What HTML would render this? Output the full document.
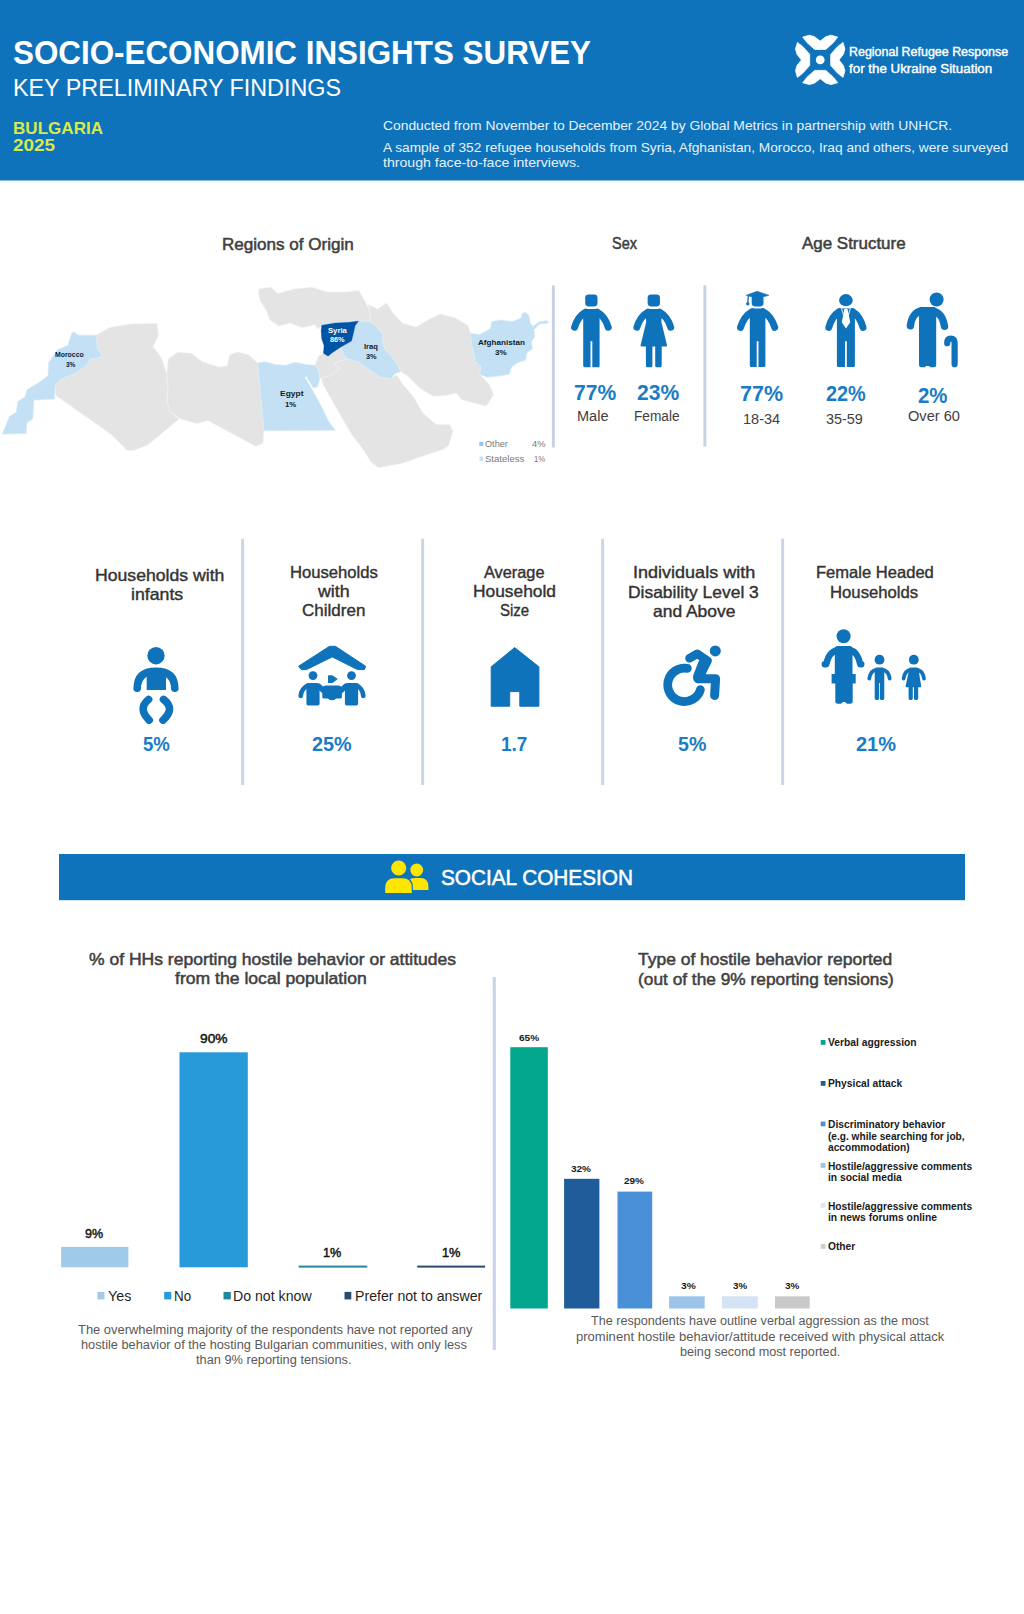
<!DOCTYPE html>
<html><head><meta charset="utf-8"><title>Socio-Economic Insights Survey</title>
<style>
html,body{margin:0;padding:0;background:#fff;}
body{width:1024px;height:1614px;position:relative;overflow:hidden;font-family:"Liberation Sans",sans-serif;}
.t{position:absolute;white-space:nowrap;line-height:1.149;transform-origin:0 0;display:block;}
.a{position:absolute;}
svg{position:absolute;left:0;top:0;overflow:visible;}
</style></head><body>
<svg width="1024" height="1614" viewBox="0 0 1024 1614">
<rect x="0" y="0" width="1024" height="180.5" fill="#0f73bb"/>
<g transform="translate(820.2,59.9)" fill="#fff">
<polygon transform="rotate(0)" points="-17.5,-22.8 -10.8,-24.7 -5.6,-23.2 0,-18.8 5.6,-23.2 10.8,-24.7 17.5,-22.8 13.2,-17.3 5.6,-10.5 -5.6,-10.5 -13.2,-17.3" stroke="#fff" stroke-width="0.8" stroke-linejoin="round"/>
<polygon transform="rotate(90)" points="-17.5,-22.8 -10.8,-24.7 -5.6,-23.2 0,-18.8 5.6,-23.2 10.8,-24.7 17.5,-22.8 13.2,-17.3 5.6,-10.5 -5.6,-10.5 -13.2,-17.3" stroke="#fff" stroke-width="0.8" stroke-linejoin="round"/>
<polygon transform="rotate(180)" points="-17.5,-22.8 -10.8,-24.7 -5.6,-23.2 0,-18.8 5.6,-23.2 10.8,-24.7 17.5,-22.8 13.2,-17.3 5.6,-10.5 -5.6,-10.5 -13.2,-17.3" stroke="#fff" stroke-width="0.8" stroke-linejoin="round"/>
<polygon transform="rotate(270)" points="-17.5,-22.8 -10.8,-24.7 -5.6,-23.2 0,-18.8 5.6,-23.2 10.8,-24.7 17.5,-22.8 13.2,-17.3 5.6,-10.5 -5.6,-10.5 -13.2,-17.3" stroke="#fff" stroke-width="0.8" stroke-linejoin="round"/>
<circle cx="0" cy="0" r="4.4"/></g>
<polygon points="99.8,332.9 109.4,327.4 131.3,323.9 157.2,323.3 158.6,335.6 153.1,346.6 161.3,357.5 166.8,373.9 168.2,390.3 166.8,401.3 170.9,412.2 179.1,419 147.7,445 134,450.5 127.2,450.5 120.3,443.6 110.7,434.1 56,395.8 54.7,384.8 60.9,379.1 75,373.3 85.5,366.3 90.2,359.2 101.4,356.9 101.4,353.4 97.3,348.7 96.1,335.2" fill="#e4e4e4" stroke="#f4f4f4" stroke-width="0.6" stroke-linejoin="round"/>
<polygon points="168.2,358.9 177.7,352 191.4,353.4 202.3,361.6 218.8,367.1 227,365.7 229.7,354.8 237.9,352 248.8,354.8 257.6,362.9 258.2,369.3 259.9,386.9 262.3,410.3 264,430.8 263,443.6 255.7,446.4 207.8,420.4 196.9,423.7 180.5,419 170.9,412.2 166.8,401.3 168.2,390.3 166.8,373.9" fill="#e4e4e4" stroke="#f4f4f4" stroke-width="0.6" stroke-linejoin="round"/>
<polygon points="258.8,288.8 271.3,287.2 277.5,293.4 294.7,288.8 311.9,287.2 327.5,291.9 346.3,291.9 358.8,290.3 365,301.3 369.7,310.6 370.3,321.7 358.6,321.1 349.2,322.3 335.2,322.9 321.7,325.2 318.1,329.4 315,324.7 302.5,327.8 290,323.1 279,326.3 269.7,320 266.6,310.6 260.3,301.3 258.8,295" fill="#e4e4e4" stroke="#f4f4f4" stroke-width="0.6" stroke-linejoin="round"/>
<polygon points="368.1,304.4 377.5,309.1 386.5,303 393.5,313.8 402.5,323.1 416,327 428.5,319.5 440.5,313.9 456,318.2 468.1,325.5 470.5,333.4 471.6,345.1 474,353.3 475.2,361.5 481,366.2 479.8,374.4 489.5,384.7 493.6,394.7 486.1,406.3 474,403 461.2,399.6 456.2,393 446.3,395.5 433,396.3 419.7,388 408.1,376.4 400.8,371.5 397.3,365.6 392.6,357.4 385.5,350.4 382,342.2 383.2,335.2 376.2,327 370.3,321.7 369.7,310.6" fill="#e4e4e4" stroke="#f4f4f4" stroke-width="0.6" stroke-linejoin="round"/>
<polygon points="315,365.2 318.5,356 323.4,353.3 328.1,356.3 331.6,353.3 341,346.9 343.4,353.9 346.9,358.6 333.8,363.8 340,368.4 329.1,376.3 321.3,377.8 319.7,379.8 318.5,370.5" fill="#e4e4e4" stroke="#f4f4f4" stroke-width="0.6" stroke-linejoin="round"/>
<polygon points="321.3,377.8 329.1,376.3 340,368.4 333.8,363.8 346.9,358.6 358.6,362.1 370.3,370.3 380.9,377.3 391.4,378.5 396.4,374.7 403.1,384.7 413.1,396.3 423,412.9 436.3,424.6 449.6,424.6 452.9,431.2 448.8,445.3 443,449.5 423,456.1 401.4,463.6 378.2,467.7 371.5,462.8 363.2,449.5 351.6,434.5 340,414.6 330.6,398.1 322.8,384.1" fill="#e4e4e4" stroke="#f4f4f4" stroke-width="0.6" stroke-linejoin="round"/>
<polygon points="73.8,331.7 78.5,335.2 96.1,335.2 97.3,348.7 101.4,353.4 101.4,356.9 90.2,359.2 85.5,366.3 75,373.3 60.9,379.1 55.1,385 54.5,399.1 34,400.2 32.8,419 27,422.5 26.4,433.6 2.3,434.2 9.4,416.6 16.4,412 17.6,401.4 25.2,396.7 27,389.7 38.7,382.7 48,375.6 48.6,362.7 57.4,349.8 68,345.2 71.5,333.4" fill="#c3e0f4" stroke="#d8ecf8" stroke-width="0.6" stroke-linejoin="round"/>
<polygon points="257.6,362.9 264.6,361.7 275.2,364.6 285.7,365.2 295.1,362.3 305.6,364.6 315,365.2 318.5,370.5 319.7,379.8 317.3,386.9 313.2,388 309.1,381 306.2,376.3 305,377.5 312.7,390.4 320.9,405.6 329.1,422 335.5,430.2 264,430.8 262.3,410.3 259.9,386.9 258.2,369.3" fill="#c3e0f4" stroke="#d8ecf8" stroke-width="0.6" stroke-linejoin="round"/>
<polygon points="358.6,321.1 370.3,321.7 376.2,327 383.2,335.2 382,342.2 385.5,350.4 392.6,357.4 397.3,365.6 400.8,371.5 394.9,373.8 391.4,378.5 380.9,377.3 370.3,370.3 358.6,362.1 346.9,358.6 343.4,353.9 341,346.9 351.6,341 353.3,334 355.1,325.8" fill="#c3e0f4" stroke="#d8ecf8" stroke-width="0.6" stroke-linejoin="round"/>
<polygon points="470.5,333.4 479.8,334.5 490.4,328.7 491.6,321.6 500.9,319.9 512.7,321.6 520.9,318.1 522,313.4 525.5,312.3 529.1,315.8 530.2,322.8 532.6,326.3 539.6,321.6 547.8,320.5 547.8,323.4 539.6,324 533.8,329.8 534.9,336.9 531.4,341.6 532.6,348.6 526.7,353.3 525.5,360.3 517.3,362.7 511.5,367.3 509.1,374.4 498.6,376.1 486.9,377.3 479.8,374.4 481,366.2 475.2,361.5 474,353.3 471.6,345.1" fill="#c3e0f4" stroke="#d8ecf8" stroke-width="0.6" stroke-linejoin="round"/>
<polygon points="321.7,325.2 335.2,322.9 349.2,322.3 358.6,321.1 355.1,325.8 353.3,334 351.6,341 341,346.9 331.6,353.3 328.1,356.3 323.4,353.3 324,345.7 321.7,338.7 321.1,330.5" fill="#0054a6" stroke="#0054a6" stroke-width="0.3" stroke-linejoin="round"/>
<rect x="479.3" y="441.8" width="4" height="4.2" fill="#8fc9ee"/>
<rect x="479.6" y="456.6" width="3.6" height="4.2" fill="#c4e2f5"/>
<rect x="551.9" y="285.5" width="2.9" height="162" fill="#c8d2e4"/>
<rect x="703.4" y="285.2" width="2.9" height="161.3" fill="#c8d2e4"/>
<rect x="241.2" y="538.7" width="2.9" height="246.3" fill="#cdd3ea"/>
<rect x="421.2" y="538.7" width="2.9" height="246.3" fill="#cdd3ea"/>
<rect x="601.2" y="538.7" width="2.9" height="246.3" fill="#cdd3ea"/>
<rect x="781.2" y="538.7" width="2.9" height="246.3" fill="#cdd3ea"/>
<rect x="492.8" y="977" width="3" height="373" fill="#c8d3ea"/>
<rect x="585.2" y="294.4" width="12.3" height="12.1" rx="3.4" fill="#0f73bb"/>
<path d="M583.2 311.4 q0 -2.5 2.5 -2.5 h11.4 q2.5 0 2.5 2.5 V365.8 q0 1.5 -1.5 1.5 H592.3 V341.3 H590.5 V367.3 H584.7 q-1.5 0 -1.5 -1.5 z" fill="#0f73bb"/>
<path d="M585.4 312.2 Q577.8 316.4 574.6 327.2" fill="none" stroke="#0f73bb" stroke-width="7" stroke-linecap="round"/>
<path d="M597.4 312.2 Q605.0 316.4 608.2 327.2" fill="none" stroke="#0f73bb" stroke-width="7" stroke-linecap="round"/>
<rect x="647.65" y="294.4" width="12.3" height="12.1" rx="3.4" fill="#0f73bb"/>
<path d="M645.5999999999999 311.4 q0 -2.5 2.5 -2.5 h11.4 q2.5 0 2.5 2.5 L661.4 322 L667.0 345.2 q0.3 1.4 -1 1.4 H661.6999999999999 V365.8 q0 1.5 -1.5 1.5 h-3.5 q-1.5 0 -1.5 -1.5 V346.6 h-2.8 V365.8 q0 1.5 -1.5 1.5 h-3.5 q-1.5 0 -1.5 -1.5 V346.6 H641.5999999999999 q-1.3 0 -1 -1.4 L646.1999999999999 322 z" fill="#0f73bb"/>
<path d="M647.8 312.2 Q640.2 316.4 636.9 327.2" fill="none" stroke="#0f73bb" stroke-width="7" stroke-linecap="round"/>
<path d="M659.8 312.2 Q667.4 316.4 670.7 327.2" fill="none" stroke="#0f73bb" stroke-width="7" stroke-linecap="round"/>
<rect x="751.7" y="295.4" width="11.8" height="11.1" rx="3.4" fill="#0f73bb"/>
<path d="M749.8 310.9 q0 -2.5 2.5 -2.5 h10.6 q2.5 0 2.5 2.5 V365.5 q0 1.5 -1.5 1.5 H758.5 V341.3 H756.7 V367 H751.3 q-1.5 0 -1.5 -1.5 z" fill="#0f73bb"/>
<path d="M752.0 311.7 Q744.0 316.1 740.5 327.4" fill="none" stroke="#0f73bb" stroke-width="7" stroke-linecap="round"/>
<path d="M763.2 311.7 Q771.2 316.1 774.7 327.4" fill="none" stroke="#0f73bb" stroke-width="7" stroke-linecap="round"/>
<polygon points="746.1,295.3 757.2,291.3 768.8,295.3 757.2,298.6" fill="#0f73bb" stroke="#0f73bb" stroke-width="0.6" stroke-linejoin="round"/>
<path d="M748.3 296 L747.9 302.5" stroke="#0f73bb" stroke-width="1.3"/><circle cx="747.8" cy="303.7" r="1.7" fill="#0f73bb"/>
<ellipse cx="845.9" cy="300.2" rx="6.8" ry="6.1" fill="#0f73bb"/>
<path d="M836.9 310.9 q0 -2.5 2.5 -2.5 h13.0 q2.5 0 2.5 2.5 V365.5 q0 1.5 -1.5 1.5 H846.8 V341.3 H845.0 V367 H838.4 q-1.5 0 -1.5 -1.5 z" fill="#0f73bb"/>
<path d="M839.1 311.7 Q831.9 316.1 828.8 327.4" fill="none" stroke="#0f73bb" stroke-width="7" stroke-linecap="round"/>
<path d="M852.7 311.7 Q859.9 316.1 863.0 327.4" fill="none" stroke="#0f73bb" stroke-width="7" stroke-linecap="round"/>
<polygon points="844.3,309 847.5,309 848.4,313 850.2,322.3 846,328.6 841.8,322.3 843.6,313" fill="#fff"/>
<path d="M841.6 308.6 L843.6 315.5 M850.3 308.6 L848.3 315.5" stroke="#fff" stroke-width="0.9"/>
<circle cx="936.6" cy="299.5" r="7" fill="#0f73bb"/>
<path d="M919 309.7 q0 -2.7 2.7 -2.7 h11.8 q2.7 0 2.7 2.7 V365 q0 2.2 -2.2 2.2 h-3.7 l-1.3 -1.3 h-2.8 l-1.3 1.3 h-3.7 q-2.2 0 -2.2 -2.2 z" fill="#0f73bb"/>
<path d="M921.5 310.5 Q912 313 910.4 325.8" fill="none" stroke="#0f73bb" stroke-width="7.4" stroke-linecap="round"/>
<path d="M933.5 311 Q942.5 313.5 944.5 326.3" fill="none" stroke="#0f73bb" stroke-width="7.4" stroke-linecap="round"/>
<path d="M954.6 364.2 V343.5 Q954.6 338.7 950.8 338.7 Q947.2 338.7 947.2 343.2" fill="none" stroke="#0f73bb" stroke-width="6.2" stroke-linecap="round"/>
<circle cx="156" cy="655.7" r="8.7" fill="#0f73bb"/>
<path d="M137.2 688.2 Q137.4 671.2 156 671.2 Q174.6 671.2 174.8 688.2" fill="none" stroke="#0f73bb" stroke-width="7.6" stroke-linecap="round"/>
<path d="M146.7 690.1 V676 Q147 668 156 668 Q165.6 668 166 676 V690.1 z" fill="#0f73bb"/>
<path d="M148.6 699.4 Q137.4 708.6 149.2 720.2" fill="none" stroke="#0f73bb" stroke-width="7.6" stroke-linecap="round"/>
<path d="M163.5 699.4 Q175.8 708.6 163 720.2" fill="none" stroke="#0f73bb" stroke-width="7.6" stroke-linecap="round"/>
<polygon points="298.6,666.2 329.5,646.3 335.4,646.3 365.6,666.2 364.5,669.6 357.5,669.6 332.3,656.9 306.5,669.6 301.3,669.6" fill="#0f73bb" stroke="#0f73bb" stroke-width="1" stroke-linejoin="round"/>
<circle cx="313" cy="675.6" r="4.4" fill="#0f73bb"/>
<path d="M306.4 703.8 V686.3 q0 -3.4 3.4 -3.4 h6.4 q3.4 0 3.4 3.4 V703.8 q0 1.8 -1.8 1.8 h-9.6 q-1.8 0 -1.8 -1.8 z" fill="#0f73bb"/>
<circle cx="351.5" cy="675.6" r="4.4" fill="#0f73bb"/>
<path d="M344.9 703.8 V686.3 q0 -3.4 3.4 -3.4 h6.4 q3.4 0 3.4 3.4 V703.8 q0 1.8 -1.8 1.8 h-9.6 q-1.8 0 -1.8 -1.8 z" fill="#0f73bb"/>
<path d="M308 685.3 Q301.2 688.5 300.7 696" fill="none" stroke="#0f73bb" stroke-width="4.6" stroke-linecap="round"/>
<path d="M356.5 685.3 Q362.8 688.5 363.3 696" fill="none" stroke="#0f73bb" stroke-width="4.6" stroke-linecap="round"/>
<path d="M318.5 686 L325 692 M346 686 L339.5 692" fill="none" stroke="#0f73bb" stroke-width="5.4" stroke-linecap="round"/>
<path d="M328.6 675.9 h3.6 l4.6 3.2 l-4.6 3.4 h-3.6 z" fill="#0f73bb" stroke="#0f73bb" stroke-width="1.2" stroke-linejoin="round"/>
<path d="M322.3 697 V689.2 q0 -3.6 3.6 -3.6 h12.4 q3.6 0 3.6 3.6 V697 q0 1.6 -1.6 1.6 h-3.6 q-2 1.6 -4.6 1.6 q-2.600 0 -4.6 -1.6 h-3.6 q-1.6 0 -1.6 -1.6 z" fill="#0f73bb"/>
<path d="M514.7 647.6 L538.9 666.8 V706.2 H519.8 V691.6 H509.7 V706.2 H491.2 V666.8 z" fill="#0f73bb" stroke="#0f73bb" stroke-width="1" stroke-linejoin="round"/>
<circle cx="715.3" cy="650.9" r="5.5" fill="#0f73bb"/>
<path d="M687.3 668.4 A16.7 16.7 0 1 0 700.4 689.7" fill="none" stroke="#0f73bb" stroke-width="8.8" stroke-linecap="round"/>
<path d="M689.5 658.3 L697.3 653.8 L707.5 660.8 L699.8 676" fill="none" stroke="#0f73bb" stroke-width="8.6" stroke-linecap="round" stroke-linejoin="round"/>
<path d="M698 678.8 L715.6 678.8 L714.6 695.6" fill="none" stroke="#0f73bb" stroke-width="9" stroke-linecap="round" stroke-linejoin="round"/>
<path d="M703.5 664 L698.5 677" fill="none" stroke="#0f73bb" stroke-width="11" stroke-linecap="round"/>
<circle cx="843.6" cy="636.2" r="7" fill="#0f73bb"/>
<path d="M834.8 649 q0 -3 3 -3 h11.7 q3 0 3 3 V674 h3.2 V683.6 h-3 V701.5 q0 2.3 -2.3 2.3 h-3.4 l-2 -1.8 h-2 l-2 1.8 h-3.4 q-2.3 0 -2.3 -2.3 V683.6 h-3.7 V674 h3.2 z" fill="#0f73bb"/>
<path d="M838 649.6 Q828.5 652 826.3 664.3 h-1.5" fill="none" stroke="#0f73bb" stroke-width="6.4" stroke-linecap="round" stroke-linejoin="round"/>
<path d="M849.5 649.6 Q858 652 860.3 664.3 h1" fill="none" stroke="#0f73bb" stroke-width="6.4" stroke-linecap="round" stroke-linejoin="round"/>
<circle cx="879.5" cy="659.7" r="4.9" fill="#0f73bb"/>
<path d="M874.7 670 q0 -2.4 2.4 -2.4 h4.8 q2.4 0 2.4 2.4 V698.6 q0 1.4 -1.4 1.4 h-1.6 q-1.4 0 -1.4 -1.4 V683 h-0.8 V698.6 q0 1.4 -1.4 1.4 h-1.6 q-1.4 0 -1.4 -1.4 z" fill="#0f73bb"/>
<path d="M876.5 669.6 Q870.3 670.6 869.3 678.6" fill="none" stroke="#0f73bb" stroke-width="3.8" stroke-linecap="round"/>
<path d="M882.5 669.6 Q888.7 670.6 889.7 678.6" fill="none" stroke="#0f73bb" stroke-width="3.8" stroke-linecap="round"/>
<circle cx="913.8" cy="659.7" r="4.9" fill="#0f73bb"/>
<path d="M909.0 670 q0 -2.4 2.4 -2.4 h4.8 q2.4 0 2.4 2.4 l2.6 16.2 q0.2 1.1 -1 1.1 h-2 V698.6 q0 1.4 -1.4 1.4 h-1.4 q-1.4 0 -1.4 -1.4 V687.3 h-1.2 V698.6 q0 1.4 -1.4 1.4 h-1.4 q-1.4 0 -1.4 -1.4 V687.3 h-2 q-1.2 0 -1 -1.1 z" fill="#0f73bb"/>
<path d="M910.8 669.6 Q904.6 670.6 903.6 678.6" fill="none" stroke="#0f73bb" stroke-width="3.8" stroke-linecap="round"/>
<path d="M916.8 669.6 Q923.0 670.6 924.0 678.6" fill="none" stroke="#0f73bb" stroke-width="3.8" stroke-linecap="round"/>
<rect x="59" y="854" width="906" height="46.2" fill="#0f73bb"/>
<g fill="#ffe600"><circle cx="416.7" cy="870" r="6.4"/><path d="M406.9 889.9 V886.5 Q406.9 877.9 415 877.9 H420.5 Q428.4 877.9 428.4 886.5 V889.9 z"/>
<circle cx="398.7" cy="868" r="8.2" stroke="#0f73bb" stroke-width="1.2"/><path d="M384.6 893.6 V888 Q384.6 877.6 394.5 877.6 H402.5 Q412.4 877.6 412.4 888 V893.6 z" stroke="#0f73bb" stroke-width="1.2"/></g>
<rect x="61.1" y="1246.9" width="67.3" height="20.4" fill="#9fcbe8"/>
<rect x="179.5" y="1052.3" width="68.3" height="215" fill="#279bd9"/>
<rect x="298.6" y="1265.6" width="68.7" height="2" fill="#23869f"/>
<rect x="417.2" y="1265.6" width="67.9" height="2" fill="#2c4a6e"/>
<rect x="97.4" y="1291.9" width="7.1" height="7.5" fill="#9fcbe8"/>
<rect x="164.2" y="1291.9" width="7.1" height="7.5" fill="#279bd9"/>
<rect x="223.5" y="1291.9" width="7.3" height="7.5" fill="#23869f"/>
<rect x="344.5" y="1291.9" width="6.8" height="7.5" fill="#2c4a6e"/>
<rect x="510.3" y="1047.2" width="37.5" height="261.3" fill="#02a68c"/>
<rect x="564.1" y="1178.8" width="35.3" height="129.7" fill="#1f5c99"/>
<rect x="617.5" y="1191.6" width="34.7" height="116.9" fill="#4a90d9"/>
<rect x="669.1" y="1296.3" width="35.6" height="12.2" fill="#9dc3e8"/>
<rect x="721.9" y="1296.3" width="35.9" height="12.2" fill="#d5e4f5"/>
<rect x="775" y="1296.3" width="34.7" height="12.2" fill="#c9c9c9"/>
<rect x="820.7" y="1040" width="4.8" height="4.8" fill="#02a68c"/>
<rect x="820.7" y="1081" width="4.8" height="4.8" fill="#1f5c99"/>
<rect x="820.7" y="1121.5" width="4.8" height="4.8" fill="#4a90d9"/>
<rect x="820.7" y="1163" width="4.8" height="4.8" fill="#9dc3e8"/>
<rect x="820.7" y="1203" width="4.8" height="4.8" fill="#dbe7f5"/>
<rect x="820.7" y="1244" width="4.8" height="4.8" fill="#cfcfcf"/>
</svg>
<span class="t" id="t0" style="left:13.0px;top:34.1px;font-size:33px;font-weight:700;color:#ffffff;transform:scaleX(0.9504);">SOCIO-ECONOMIC INSIGHTS SURVEY</span>
<span class="t" id="t1" style="left:13.0px;top:75.4px;font-size:23px;font-weight:400;color:#ffffff;transform:scaleX(1.0143);">KEY PRELIMINARY FINDINGS</span>
<span class="t" id="t2" style="left:13.0px;top:118.6px;font-size:17px;font-weight:700;color:#d8e84e;transform:scaleX(1.0031);">BULGARIA</span>
<span class="t" id="t3" style="left:13.0px;top:136.1px;font-size:17px;font-weight:700;color:#d8e84e;transform:scaleX(1.1103);">2025</span>
<span class="t" id="t4" style="left:383.0px;top:117.9px;font-size:13.4px;font-weight:400;color:#e8f1fa;transform:scaleX(1.0346);">Conducted from November to December 2024 by Global Metrics in partnership with UNHCR.</span>
<span class="t" id="t5" style="left:383.0px;top:140.3px;font-size:13.4px;font-weight:400;color:#e8f1fa;transform:scaleX(1.0240);">A sample of 352 refugee households from Syria, Afghanistan, Morocco, Iraq and others, were surveyed</span>
<span class="t" id="t6" style="left:383.0px;top:155.1px;font-size:13.4px;font-weight:400;color:#e8f1fa;transform:scaleX(1.0544);">through face-to-face interviews.</span>
<span class="t" id="t7" style="left:848.8px;top:45.2px;font-size:13px;font-weight:400;color:#ffffff;transform:scaleX(0.9577);-webkit-text-stroke:0.4px #fff;">Regional Refugee Response</span>
<span class="t" id="t8" style="left:848.8px;top:61.5px;font-size:13px;font-weight:400;color:#ffffff;transform:scaleX(1.0268);-webkit-text-stroke:0.4px #fff;">for the Ukraine Situation</span>
<span class="t" id="t9" style="left:222.0px;top:235.5px;font-size:16px;font-weight:400;color:#404040;transform:scaleX(1.0661);-webkit-text-stroke:0.5px #404040;">Regions of Origin</span>
<span class="t" id="t10" style="left:611.6px;top:234.7px;font-size:16px;font-weight:400;color:#404040;transform:scaleX(0.9029);-webkit-text-stroke:0.5px #404040;">Sex</span>
<span class="t" id="t11" style="left:801.8px;top:234.7px;font-size:16px;font-weight:400;color:#404040;transform:scaleX(1.0590);-webkit-text-stroke:0.5px #404040;">Age Structure</span>
<span class="t" id="t12" style="left:574.2px;top:379.9px;font-size:22px;font-weight:700;color:#1b7cc6;transform:scaleX(0.9581);">77%</span>
<span class="t" id="t13" style="left:636.7px;top:379.9px;font-size:22px;font-weight:700;color:#1b7cc6;transform:scaleX(0.9581);">23%</span>
<span class="t" id="t14" style="left:739.5px;top:381.3px;font-size:22px;font-weight:700;color:#1b7cc6;transform:scaleX(0.9762);">77%</span>
<span class="t" id="t15" style="left:826.2px;top:381.3px;font-size:22px;font-weight:700;color:#1b7cc6;transform:scaleX(0.9013);">22%</span>
<span class="t" id="t16" style="left:918.4px;top:382.6px;font-size:22px;font-weight:700;color:#1b7cc6;transform:scaleX(0.9278);">2%</span>
<span class="t" id="t17" style="left:576.6px;top:407.6px;font-size:14px;font-weight:400;color:#404040;transform:scaleX(1.0376);">Male</span>
<span class="t" id="t18" style="left:634.1px;top:407.6px;font-size:14px;font-weight:400;color:#404040;transform:scaleX(0.9767);">Female</span>
<span class="t" id="t19" style="left:743.4px;top:410.9px;font-size:14px;font-weight:400;color:#404040;transform:scaleX(1.0360);">18-34</span>
<span class="t" id="t20" style="left:826.2px;top:410.9px;font-size:14px;font-weight:400;color:#404040;transform:scaleX(1.0304);">35-59</span>
<span class="t" id="t21" style="left:908.3px;top:407.6px;font-size:14px;font-weight:400;color:#404040;transform:scaleX(1.0419);">Over 60</span>
<span class="t" id="t22" style="left:94.6px;top:566.0px;font-size:16.5px;font-weight:400;color:#333333;transform:scaleX(1.0687);-webkit-text-stroke:0.4px #333333;">Households with</span>
<span class="t" id="t23" style="left:131.3px;top:585.0px;font-size:16.5px;font-weight:400;color:#333333;transform:scaleX(1.0735);-webkit-text-stroke:0.4px #333333;">infants</span>
<span class="t" id="t24" style="left:290.0px;top:563.0px;font-size:16.5px;font-weight:400;color:#333333;transform:scaleX(1.0087);-webkit-text-stroke:0.4px #333333;">Households</span>
<span class="t" id="t25" style="left:317.8px;top:582.1px;font-size:16.5px;font-weight:400;color:#333333;transform:scaleX(1.0803);-webkit-text-stroke:0.4px #333333;">with</span>
<span class="t" id="t26" style="left:302.2px;top:601.1px;font-size:16.5px;font-weight:400;color:#333333;transform:scaleX(1.0317);-webkit-text-stroke:0.4px #333333;">Children</span>
<span class="t" id="t27" style="left:484.3px;top:563.1px;font-size:16.5px;font-weight:400;color:#333333;transform:scaleX(0.9890);-webkit-text-stroke:0.4px #333333;">Average</span>
<span class="t" id="t28" style="left:473.0px;top:582.1px;font-size:16.5px;font-weight:400;color:#333333;transform:scaleX(1.0521);-webkit-text-stroke:0.4px #333333;">Household</span>
<span class="t" id="t29" style="left:500.0px;top:601.1px;font-size:16.5px;font-weight:400;color:#333333;transform:scaleX(0.9094);-webkit-text-stroke:0.4px #333333;">Size</span>
<span class="t" id="t30" style="left:633.3px;top:563.1px;font-size:16.5px;font-weight:400;color:#333333;transform:scaleX(1.0921);-webkit-text-stroke:0.4px #333333;">Individuals with</span>
<span class="t" id="t31" style="left:628.4px;top:582.8px;font-size:16.5px;font-weight:400;color:#333333;transform:scaleX(1.0564);-webkit-text-stroke:0.4px #333333;">Disability Level 3</span>
<span class="t" id="t32" style="left:652.6px;top:602.4px;font-size:16.5px;font-weight:400;color:#333333;transform:scaleX(1.0564);-webkit-text-stroke:0.4px #333333;">and Above</span>
<span class="t" id="t33" style="left:815.8px;top:563.1px;font-size:16.5px;font-weight:400;color:#333333;transform:scaleX(1.0034);-webkit-text-stroke:0.4px #333333;">Female Headed</span>
<span class="t" id="t34" style="left:830.2px;top:582.8px;font-size:16.5px;font-weight:400;color:#333333;transform:scaleX(1.0122);-webkit-text-stroke:0.4px #333333;">Households</span>
<span class="t" id="t35" style="left:143.4px;top:731.8px;font-size:21px;font-weight:700;color:#1b7cc6;transform:scaleX(0.8861);">5%</span>
<span class="t" id="t36" style="left:312.4px;top:731.8px;font-size:21px;font-weight:700;color:#1b7cc6;transform:scaleX(0.9422);">25%</span>
<span class="t" id="t37" style="left:500.7px;top:731.8px;font-size:21px;font-weight:700;color:#1b7cc6;transform:scaleX(0.9006);">1.7</span>
<span class="t" id="t38" style="left:678.2px;top:731.8px;font-size:21px;font-weight:700;color:#1b7cc6;transform:scaleX(0.9355);">5%</span>
<span class="t" id="t39" style="left:856.3px;top:731.8px;font-size:21px;font-weight:700;color:#1b7cc6;transform:scaleX(0.9517);">21%</span>
<span class="t" id="t40" style="left:440.6px;top:864.8px;font-size:22px;font-weight:400;color:#ffffff;transform:scaleX(0.9437);-webkit-text-stroke:0.55px #fff;">SOCIAL COHESION</span>
<span class="t" id="t41" style="left:89.2px;top:949.9px;font-size:16.5px;font-weight:400;color:#404040;transform:scaleX(1.0617);-webkit-text-stroke:0.5px #404040;">% of HHs reporting hostile behavior or attitudes</span>
<span class="t" id="t42" style="left:175.3px;top:969.1px;font-size:16.5px;font-weight:400;color:#404040;transform:scaleX(1.0663);-webkit-text-stroke:0.5px #404040;">from the local population</span>
<span class="t" id="t43" style="left:638.0px;top:950.2px;font-size:16.5px;font-weight:400;color:#404040;transform:scaleX(1.0581);-webkit-text-stroke:0.5px #404040;">Type of hostile behavior reported</span>
<span class="t" id="t44" style="left:638.0px;top:969.6px;font-size:16.5px;font-weight:400;color:#404040;transform:scaleX(1.0488);-webkit-text-stroke:0.5px #404040;">(out of the 9% reporting tensions)</span>
<span class="t" id="t45" style="left:200.0px;top:1031.7px;font-size:12.5px;font-weight:400;color:#1a1a1a;transform:scaleX(1.0986);-webkit-text-stroke:0.45px #111;">90%</span>
<span class="t" id="t46" style="left:85.2px;top:1227.1px;font-size:12.5px;font-weight:400;color:#1a1a1a;transform:scaleX(1.0012);-webkit-text-stroke:0.45px #111;">9%</span>
<span class="t" id="t47" style="left:322.7px;top:1246.2px;font-size:12.5px;font-weight:400;color:#1a1a1a;transform:scaleX(1.0123);-webkit-text-stroke:0.45px #111;">1%</span>
<span class="t" id="t48" style="left:441.8px;top:1246.2px;font-size:12.5px;font-weight:400;color:#1a1a1a;transform:scaleX(1.0233);-webkit-text-stroke:0.45px #111;">1%</span>
<span class="t" id="t49" style="left:108.0px;top:1288.1px;font-size:14px;font-weight:400;color:#1f1f1f;transform:scaleX(1.0244);">Yes</span>
<span class="t" id="t50" style="left:174.1px;top:1288.1px;font-size:14px;font-weight:400;color:#1f1f1f;transform:scaleX(0.9550);">No</span>
<span class="t" id="t51" style="left:233.4px;top:1288.1px;font-size:14px;font-weight:400;color:#1f1f1f;transform:scaleX(1.0099);">Do not know</span>
<span class="t" id="t52" style="left:354.8px;top:1288.1px;font-size:14px;font-weight:400;color:#1f1f1f;transform:scaleX(1.0090);">Prefer not to answer</span>
<span class="t" id="t53" style="left:77.6px;top:1323.1px;font-size:12.5px;font-weight:400;color:#595959;transform:scaleX(1.0339);">The overwhelming majority of the respondents have not reported any</span>
<span class="t" id="t54" style="left:81.1px;top:1337.6px;font-size:12.5px;font-weight:400;color:#595959;transform:scaleX(1.0228);">hostile behavior of the hosting Bulgarian communities, with only less</span>
<span class="t" id="t55" style="left:195.5px;top:1352.6px;font-size:12.5px;font-weight:400;color:#595959;transform:scaleX(1.0218);">than 9% reporting tensions.</span>
<span class="t" id="t56" style="left:518.8px;top:1032.7px;font-size:9.5px;font-weight:700;color:#1a1a1a;transform:scaleX(1.0623);">65%</span>
<span class="t" id="t57" style="left:571.3px;top:1163.6px;font-size:9.5px;font-weight:700;color:#1a1a1a;transform:scaleX(1.0518);">32%</span>
<span class="t" id="t58" style="left:624.4px;top:1176.4px;font-size:9.5px;font-weight:700;color:#1a1a1a;transform:scaleX(1.0518);">29%</span>
<span class="t" id="t59" style="left:680.6px;top:1280.8px;font-size:9.5px;font-weight:700;color:#1a1a1a;transform:scaleX(1.0703);">3%</span>
<span class="t" id="t60" style="left:732.8px;top:1280.8px;font-size:9.5px;font-weight:700;color:#1a1a1a;transform:scaleX(1.0266);">3%</span>
<span class="t" id="t61" style="left:785.0px;top:1280.8px;font-size:9.5px;font-weight:700;color:#1a1a1a;transform:scaleX(1.0485);">3%</span>
<span class="t" id="t62" style="left:828.1px;top:1037.4px;font-size:10px;font-weight:700;color:#1a1a1a;transform:scaleX(1.0284);">Verbal aggression</span>
<span class="t" id="t63" style="left:828.1px;top:1078.4px;font-size:10px;font-weight:700;color:#1a1a1a;transform:scaleX(1.0268);">Physical attack</span>
<span class="t" id="t64" style="left:828.1px;top:1118.8px;font-size:10px;font-weight:700;color:#1a1a1a;transform:scaleX(1.0246);">Discriminatory behavior</span>
<span class="t" id="t65" style="left:828.1px;top:1131.0px;font-size:10px;font-weight:700;color:#1a1a1a;transform:scaleX(1.0116);">(e.g. while searching for job,</span>
<span class="t" id="t66" style="left:828.1px;top:1142.2px;font-size:10px;font-weight:700;color:#1a1a1a;transform:scaleX(1.0211);">accommodation)</span>
<span class="t" id="t67" style="left:827.6px;top:1160.5px;font-size:10px;font-weight:700;color:#1a1a1a;transform:scaleX(1.0207);">Hostile/aggressive comments</span>
<span class="t" id="t68" style="left:827.6px;top:1171.5px;font-size:10px;font-weight:700;color:#1a1a1a;transform:scaleX(1.0292);">in social media</span>
<span class="t" id="t69" style="left:827.6px;top:1200.5px;font-size:10px;font-weight:700;color:#1a1a1a;transform:scaleX(1.0207);">Hostile/aggressive comments</span>
<span class="t" id="t70" style="left:827.6px;top:1212.0px;font-size:10px;font-weight:700;color:#1a1a1a;transform:scaleX(1.0324);">in news forums online</span>
<span class="t" id="t71" style="left:828.1px;top:1241.0px;font-size:10px;font-weight:700;color:#1a1a1a;transform:scaleX(1.0236);">Other</span>
<span class="t" id="t72" style="left:591.3px;top:1313.6px;font-size:12.5px;font-weight:400;color:#595959;transform:scaleX(1.0085);">The respondents have outline verbal aggression as the most</span>
<span class="t" id="t73" style="left:576.4px;top:1329.8px;font-size:12.5px;font-weight:400;color:#595959;transform:scaleX(1.0437);">prominent hostile behavior/attitude received with physical attack</span>
<span class="t" id="t74" style="left:680.3px;top:1344.9px;font-size:12.5px;font-weight:400;color:#595959;transform:scaleX(1.0111);">being second most reported.</span>
<span class="t" id="t75" style="left:55.1px;top:351.4px;font-size:7.5px;font-weight:700;color:#0c2233;transform:scaleX(0.9179);">Morocco</span>
<span class="t" id="t76" style="left:65.6px;top:360.6px;font-size:7.5px;font-weight:700;color:#0c2233;transform:scaleX(0.8669);">3%</span>
<span class="t" id="t77" style="left:328.1px;top:327.2px;font-size:7.5px;font-weight:700;color:#ffffff;transform:scaleX(1.0240);">Syria</span>
<span class="t" id="t78" style="left:329.9px;top:336.0px;font-size:7.5px;font-weight:700;color:#ffffff;transform:scaleX(0.9723);">86%</span>
<span class="t" id="t79" style="left:363.9px;top:342.6px;font-size:7.5px;font-weight:700;color:#0c2233;transform:scaleX(1.0170);">Iraq</span>
<span class="t" id="t80" style="left:365.6px;top:353.0px;font-size:7.5px;font-weight:700;color:#0c2233;transform:scaleX(0.9775);">3%</span>
<span class="t" id="t81" style="left:477.5px;top:338.9px;font-size:7.5px;font-weight:700;color:#0c2233;transform:scaleX(1.0820);">Afghanistan</span>
<span class="t" id="t82" style="left:495.1px;top:349.4px;font-size:7.5px;font-weight:700;color:#0c2233;transform:scaleX(1.0790);">3%</span>
<span class="t" id="t83" style="left:279.8px;top:389.6px;font-size:7.5px;font-weight:700;color:#0c2233;transform:scaleX(1.1274);">Egypt</span>
<span class="t" id="t84" style="left:285.1px;top:401.2px;font-size:7.5px;font-weight:700;color:#0c2233;transform:scaleX(1.0329);">1%</span>
<span class="t" id="t85" style="left:485.1px;top:438.9px;font-size:9px;font-weight:400;color:#7a7a7a;transform:scaleX(1.0171);">Other</span>
<span class="t" id="t86" style="left:532.0px;top:438.9px;font-size:9px;font-weight:400;color:#7a7a7a;transform:scaleX(1.0372);">4%</span>
<span class="t" id="t87" style="left:485.1px;top:453.9px;font-size:9px;font-weight:400;color:#7a7a7a;transform:scaleX(1.0613);">Stateless</span>
<span class="t" id="t88" style="left:534.3px;top:453.9px;font-size:9px;font-weight:400;color:#7a7a7a;transform:scaleX(0.8605);">1%</span>
</body></html>
